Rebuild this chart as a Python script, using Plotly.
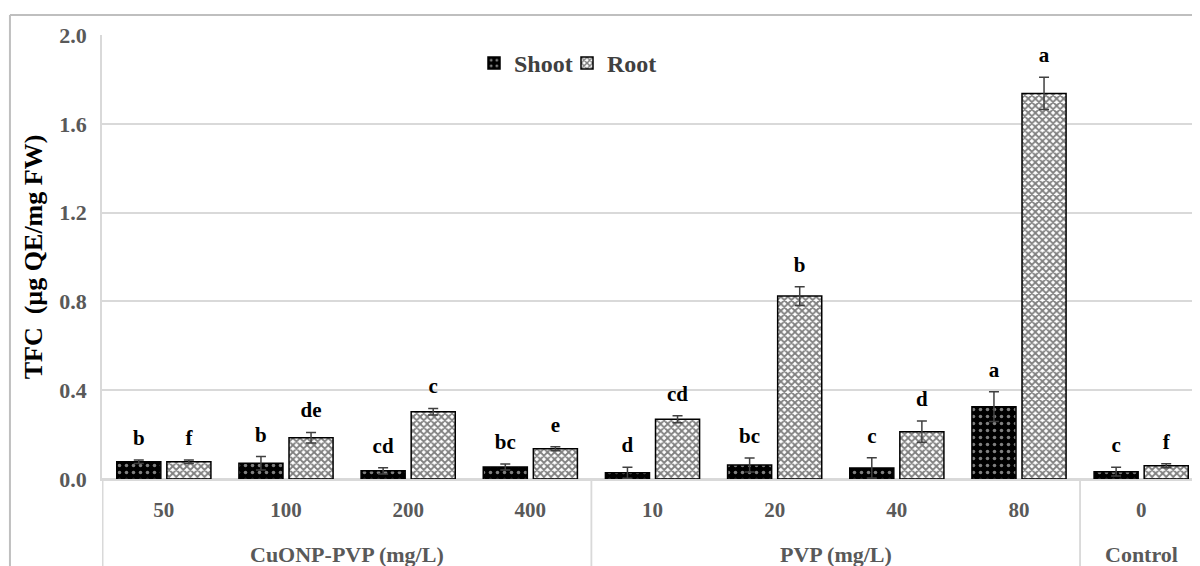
import plotly.graph_objects as go

groups = ["CuONP-PVP (mg/L)"] * 4 + ["PVP (mg/L)"] * 4 + ["Control"]
doses = ["50", "100", "200", "400", "10", "20", "40", "80", "0"]
shoot = [0.078, 0.071, 0.037, 0.054, 0.028, 0.063, 0.050, 0.326, 0.033]
shoot_err = [0.008, 0.030, 0.014, 0.014, 0.025, 0.032, 0.046, 0.067, 0.020]
root = [0.078, 0.186, 0.303, 0.136, 0.269, 0.824, 0.213, 1.737, 0.060]
root_err = [0.008, 0.024, 0.015, 0.009, 0.016, 0.042, 0.048, 0.073, 0.009]
shoot_letters = ["b", "b", "cd", "bc", "d", "bc", "c", "a", "c"]
root_letters = ["f", "de", "c", "e", "cd", "b", "d", "a", "f"]
y_ticks = [0.0, 0.4, 0.8, 1.2, 1.6, 2.0]

FONT = "Liberation Serif, Times New Roman, serif"
GRID = "#d9d9d9"

fig = go.Figure()
fig.add_trace(go.Bar(
    name="Shoot", x=doses, y=shoot, offsetgroup="s",
    marker=dict(color="black", line=dict(color="black", width=1.5),
                pattern=dict(shape=".", fgcolor="white", bgcolor="black", size=7, solidity=0.2)),
    error_y=dict(type="data", array=shoot_err, color="#404040", thickness=1.5, width=5),
))
fig.add_trace(go.Bar(
    name="Root", x=doses, y=root, offsetgroup="r",
    marker=dict(color="white", line=dict(color="black", width=1.5),
                pattern=dict(shape="x", fgcolor="black", bgcolor="white", size=5, solidity=0.6)),
    error_y=dict(type="data", array=root_err, color="#404040", thickness=1.5, width=5),
))
for vals, errs, letters, grp in [(shoot, shoot_err, shoot_letters, "s"), (root, root_err, root_letters, "r")]:
    fig.add_trace(go.Scatter(
        x=doses, y=[v + e for v, e in zip(vals, errs)], text=[f"<b>{t}</b>" for t in letters],
        offsetgroup=grp, mode="markers+text", textposition="top center",
        marker=dict(size=14, color="rgba(0,0,0,0)"),
        textfont=dict(family=FONT, size=21, color="black"),
        showlegend=False, hoverinfo="skip",
    ))

# the page adds an 8 px body margin, so the figure box is offset by 8 px
fig.update_layout(
    width=1200, height=566,
    margin=dict(l=94, r=5, t=27, b=95, autoexpand=False),
    paper_bgcolor="white", plot_bgcolor="white",
    barmode="group", bargap=0.18, bargroupgap=0.12,
    scattermode="group", scattergap=0.18,
    legend=dict(orientation="h", x=(466 - 94) / 1101, xanchor="left", y=0.936, yanchor="middle",
                font=dict(family=FONT, size=24, color="#404040", weight="bold"),
                bgcolor="rgba(0,0,0,0)", itemwidth=30, entrywidth=48, entrywidthmode="pixels"),
    font=dict(family=FONT),
)
fig.update_yaxes(
    range=[0, 2.0], tickvals=y_ticks, ticktext=[f"{v:.1f}" for v in y_ticks],
    showgrid=True, gridcolor=GRID, gridwidth=1.5,
    zeroline=True, zerolinecolor=GRID, zerolinewidth=1.5,
    showline=True, linecolor=GRID, linewidth=1.5,
    ticks="", ticklabelstandoff=9, automargin=False,
    tickfont=dict(family=FONT, size=22, color="#595959", weight="bold"),
    title=dict(text="TFC  (µg QE/mg FW)", standoff=9,
               font=dict(family=FONT, size=26, color="black", weight="bold")),
)
fig.update_xaxes(
    type="category", showline=True, linecolor=GRID, linewidth=1.5, automargin=False,
    ticks="", ticklabelstandoff=11,
    tickfont=dict(family=FONT, size=21, color="#595959", weight="bold"),
)

# group labels and dividers of the two-level category axis
bounds = []
start = 0
for i in range(1, len(groups) + 1):
    if i == len(groups) or groups[i] != groups[start]:
        bounds.append((groups[start], start, i - 1))
        start = i
for name, a, b in bounds:
    fig.add_annotation(x=(a + b) / 2, xref="x", y=0, yref="paper", yshift=-75, yanchor="middle",
                       text=f"<b>{name}</b>", showarrow=False,
                       font=dict(family=FONT, size=22, color="#595959"))
for name, a, b in bounds:
    for edge in (a - 0.5, b + 0.5):
        fig.add_shape(type="line", xref="x", yref="paper", x0=edge, x1=edge, y0=0, y1=-0.25,
                      line=dict(color=GRID, width=1.5))

# outer chart-area border (partially visible in the cropped reference)
fig.add_shape(type="line", xref="paper", yref="paper", x0=-0.0836, x1=1.05, y0=1.045, y1=1.045,
              line=dict(color="#bfbfbf", width=2))
fig.add_shape(type="line", xref="paper", yref="paper", x0=-0.0836, x1=-0.0836, y0=1.045, y1=-0.3,
              line=dict(color="#bfbfbf", width=2))

fig.write_html("out.html")
